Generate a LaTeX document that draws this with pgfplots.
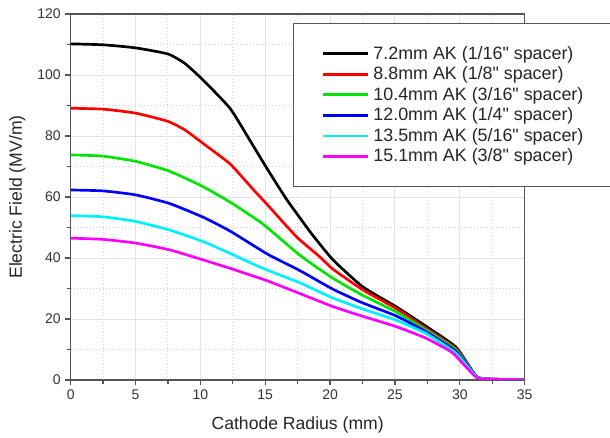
\documentclass[border=0pt]{standalone}
\usepackage{pgfplots}
\pgfplotsset{compat=1.18}
\usepackage{fontspec}
\setmainfont{Liberation Sans}
\newfontfamily\plainfont{Liberation Sans}
\definecolor{axgray}{RGB}{85,85,85}
\definecolor{ggreen}{RGB}{0,230,0}
\definecolor{gcyan}{RGB}{0,240,255}
\definecolor{gmag}{RGB}{255,0,255}
\newcommand{\q}{{\plainfont\symbol{34}}}
\begin{document}
\begin{tikzpicture}
\path[use as bounding box] (-53pt,-43.5pt) rectangle (404.5pt,285pt);
\begin{axis}[
  at={(0,0)}, anchor=south west,
  scale only axis, width=340.5pt, height=274.5pt,
  xmin=0, xmax=35, ymin=0, ymax=120,
  xtick={0,5,...,35}, ytick={0,20,...,120},
  minor x tick num=1, minor y tick num=1,
  grid=both,
  major grid style={gray!22, line width=0.7pt},
  minor grid style={gray!35, dotted, line width=0.7pt},
  axis line style={axgray, line width=1pt},
  tick style={axgray, line width=0.9pt},
  major tick length=4pt, minor tick length=3pt,
  tick align=outside, tick pos=left,
  /pgf/number format/assume math mode=true,
  ticklabel style={font=\fontsize{10.5}{12}\selectfont, text=black!80},
  xlabel={Cathode Radius (mm)}, ylabel={Electric Field (MV/m)},
  every axis x label/.style={at={(axis description cs:0.5,-0.124)}, anchor=center, font=\fontsize{13.2}{15}\selectfont, text=black!85},
  every axis y label/.style={at={(axis description cs:-0.1175,0.5)}, rotate=90, anchor=center, font=\fontsize{13.2}{15}\selectfont, text=black!85},
  legend cell align=left,
  legend image code/.code={\draw[#1, line width=2pt] (0pt,0pt) -- (34pt,0pt);},
  legend style={at={(rel axis cs:0.489,0.976)}, anchor=north west,
    draw=axgray, line width=1pt, fill=white,
    inner xsep=21pt, inner ysep=15pt,
    font=\fontsize{13.4}{15}\selectfont, text=black!85,
    nodes={inner sep=2.1pt}, column sep=1pt},
  every axis plot/.append style={line width=2pt, smooth, tension=0.3},
]
\addplot[black] coordinates {(0,110.2) (2.5,109.9) (5,108.9) (7.5,106.9) (8.8,103.8) (10.2,98.4) (12.3,89.0) (13.8,78.7) (15.2,68.9) (16.6,59.5) (17.7,53.0) (18.6,47.8) (20.2,39.5) (22.5,30.6) (25.1,24.0) (27.4,17.6) (29.7,10.8) (31.3,1.1) (32.4,0.3) (35,0)};
\addlegendentry{7.2mm AK (1/16\q{} spacer)}
\addplot[red] coordinates {(0,89.1) (2.5,88.8) (5,87.5) (7.5,84.8) (8.8,82.0) (10.2,77.6) (12.3,70.8) (14.0,62.8) (15.2,57.3) (17.4,47.0) (19.2,40.4) (20.2,36.4) (22.5,29.6) (25.1,23.4) (27.4,16.9) (29.7,10.3) (31.3,1.1) (32.4,0.3) (35,0)};
\addlegendentry{8.8mm AK (1/8\q{} spacer)}
\addplot[ggreen] coordinates {(0,73.8) (2.5,73.4) (5,71.7) (7.6,68.5) (10.2,63.4) (12.3,58.3) (14.8,51.2) (17.7,40.8) (20.2,33.4) (22.5,27.8) (25.1,22.3) (27.4,16.4) (29.7,9.9) (31.3,1.1) (32.4,0.3) (35,0)};
\addlegendentry{10.4mm AK (3/16\q{} spacer)}
\addplot[blue] coordinates {(0,62.3) (2.5,62.0) (5,60.7) (7.6,57.9) (10.2,53.4) (12.3,48.8) (15.2,41.2) (17.7,35.8) (20.2,29.8) (22.5,25.3) (25.1,21.0) (27.4,15.8) (29.7,9.4) (31.3,1.1) (32.4,0.3) (35,0)};
\addlegendentry{12.0mm AK (1/4\q{} spacer)}
\addplot[gcyan] coordinates {(0,53.9) (2.5,53.5) (5,52.0) (7.6,49.2) (10.2,45.4) (12.3,41.5) (14.6,37.0) (17.7,31.8) (20.2,26.9) (22.5,23.3) (25.1,19.6) (27.4,15.2) (29.7,8.8) (31.3,1.0) (32.4,0.3) (35,0)};
\addlegendentry{13.5mm AK (5/16\q{} spacer)}
\addplot[gmag] coordinates {(0,46.5) (2.5,46.1) (5,44.9) (7.6,42.7) (10.2,39.4) (12.3,36.6) (15.1,32.6) (17.7,28.3) (20.2,24.1) (22.5,20.9) (25.1,17.5) (27.4,13.7) (29.2,9.6) (29.7,7.8) (31.3,0.8) (32.4,0.3) (35,0)};
\addlegendentry{15.1mm AK (3/8\q{} spacer)}
\end{axis}
\end{tikzpicture}
\end{document}
